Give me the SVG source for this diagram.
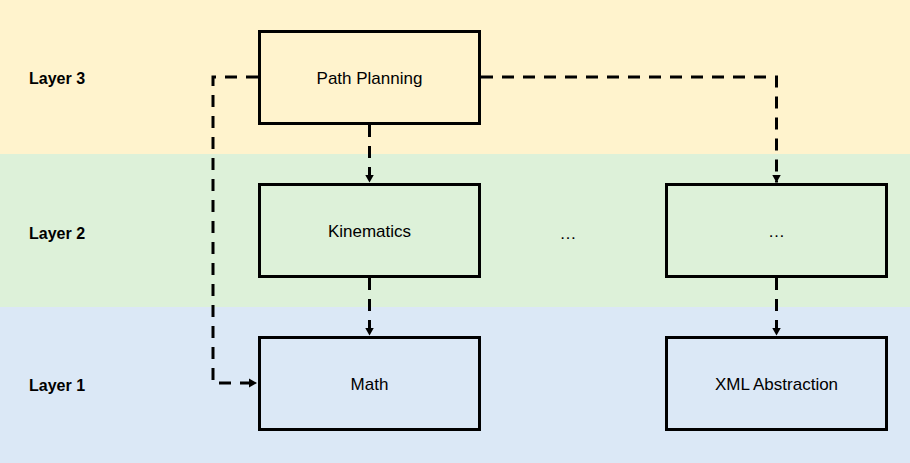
<svg xmlns="http://www.w3.org/2000/svg" width="910" height="463" viewBox="0 0 910 463">
<style>
.band3{fill:#FFF3CD}.band2{fill:#DDF1D9}.band1{fill:#DBE8F6}
.box{stroke:#000;stroke-width:3}
.lbl{font-family:"Liberation Sans",Arial,sans-serif;font-weight:bold;font-size:16px;fill:#000}
.txt{font-family:"Liberation Sans",Arial,sans-serif;font-size:17px;fill:#000;text-anchor:middle}
.con{fill:none;stroke:#000;stroke-width:3;stroke-dasharray:12 9}
</style>
<defs>
<marker id="arr" markerUnits="userSpaceOnUse" markerWidth="10" markerHeight="10" refX="8" refY="5" orient="auto">
<path d="M0,0.5 L8,5 L0,9.5 Z" fill="#000"/>
</marker>
</defs>
<g id="bands">
<rect class="band3" x="0" y="0" width="910" height="154"/>
<rect class="band2" x="0" y="154" width="910" height="153"/>
<rect class="band1" x="0" y="307" width="910" height="156"/>
<text class="lbl" x="29" y="84">Layer 3</text>
<text class="lbl" x="29" y="239">Layer 2</text>
<text class="lbl" x="29" y="391">Layer 1</text>
<text class="txt" x="568" y="239">…</text>
</g>
<g id="connectors">
<path class="con" d="M258,77 H213 V383 H257" marker-end="url(#arr)"/>
<path class="con" d="M481,77 H776.5 V182.5" marker-end="url(#arr)"/>
<path class="con" d="M369.5,125 V182.5" marker-end="url(#arr)"/>
<path class="con" d="M369.5,278 V335.5" marker-end="url(#arr)"/>
<path class="con" d="M776.5,278 V335.5" marker-end="url(#arr)"/>
</g>
<g id="path-planning">
<rect class="box" x="259.5" y="31.5" width="220" height="92" fill="#FFF3CD"/>
<text class="txt" x="369.5" y="83.5">Path Planning</text>
</g>
<g id="kinematics">
<rect class="box" x="259.5" y="184.5" width="220" height="92" fill="#DDF1D9"/>
<text class="txt" x="369.5" y="236.5">Kinematics</text>
</g>
<g id="layer2-more">
<rect class="box" x="666.5" y="184.5" width="220" height="92" fill="#DDF1D9"/>
<text class="txt" x="776.5" y="236.5">…</text>
</g>
<g id="math">
<rect class="box" x="259.5" y="337.5" width="220" height="92" fill="#DBE8F6"/>
<text class="txt" x="369.5" y="390">Math</text>
</g>
<g id="xml-abstraction">
<rect class="box" x="666.5" y="337.5" width="220" height="92" fill="#DBE8F6"/>
<text class="txt" x="776.5" y="390">XML Abstraction</text>
</g>
</svg>
